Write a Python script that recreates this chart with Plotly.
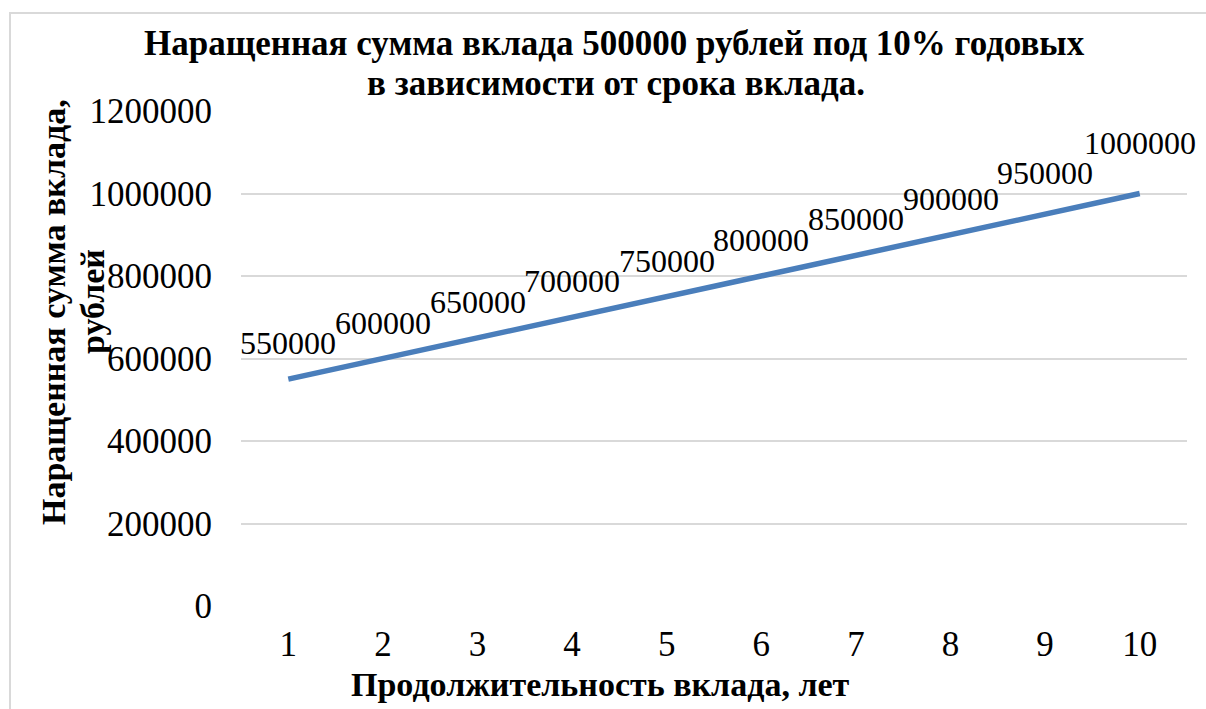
import plotly.graph_objects as go

years = [1, 2, 3, 4, 5, 6, 7, 8, 9, 10]
amounts = [550000, 600000, 650000, 700000, 750000, 800000, 850000, 900000, 950000, 1000000]
y_ticks = [0, 200000, 400000, 600000, 800000, 1000000, 1200000]

title_lines = ["Наращенная сумма вклада 500000 рублей под 10% годовых",
               "в зависимости от срока вклада."]
x_title = "Продолжительность вклада, лет"
y_title_lines = ["Наращенная сумма вклада,", "рублей"]

W, H = 1206, 709
L, R, T, B = 241, 19, 111, 103
pw, ph = W - L - R, H - T - B

def px(x):
    return (x - L) / pw

def py(y):
    return (H - B - y) / ph

FONT = "Liberation Serif, Times New Roman, serif"
line_color = "#4a7ebb"

# extra vertical lift (px) for the last labels, as placed in the original
label_lift = {9: 5, 10: 15}

fig = go.Figure()
fig.add_trace(go.Scatter(
    x=years, y=amounts, mode="lines",
    line=dict(color=line_color, width=5.5),
    hoverinfo="skip", showlegend=False,
))

annotations = []
for xv, yv in zip(years, amounts):
    annotations.append(dict(
        x=xv, y=yv, xref="x", yref="y", text=str(yv), showarrow=False,
        xanchor="center", yanchor="bottom", yshift=16 + label_lift.get(xv, 0),
        font=dict(family=FONT, size=32, color="black"),
    ))

bold = dict(family=FONT, size=35, color="black", weight="bold")
for txt, (cx, cy) in zip(title_lines, [(614, 43), (616, 83)]):
    annotations.append(dict(
        x=px(cx), y=py(cy), xref="paper", yref="paper", text=txt,
        showarrow=False, xanchor="center", yanchor="middle", font=bold,
    ))
annotations.append(dict(
    x=px(600), y=py(684), xref="paper", yref="paper", text=x_title,
    showarrow=False, xanchor="center", yanchor="middle",
    font=dict(family=FONT, size=34, color="black", weight="bold"),
))
for txt, (cx, cy) in zip(y_title_lines, [(53, 312), (92, 302)]):
    annotations.append(dict(
        x=px(cx), y=py(cy), xref="paper", yref="paper", text=txt,
        showarrow=False, xanchor="center", yanchor="middle", textangle=-90,
        font=dict(family=FONT, size=34, color="black", weight="bold"),
    ))

fig.update_layout(
    width=W, height=H,
    margin=dict(l=L, r=R, t=T, b=B, pad=0),
    paper_bgcolor="white", plot_bgcolor="white",
    annotations=annotations,
    shapes=[dict(type="rect", xref="paper", yref="paper",
                 x0=px(10), x1=px(1212), y0=py(13), y1=py(720),
                 line=dict(color="#d9d9d9", width=2), fillcolor="rgba(0,0,0,0)",
                 layer="below")],
    xaxis=dict(
        range=[0.5, 10.5], tickvals=years, ticktext=[str(v) for v in years],
        showgrid=False, zeroline=False, showline=False, ticks="",
        tickfont=dict(family=FONT, size=35, color="black"),
        ticklabelstandoff=14,
    ),
    yaxis=dict(
        range=[0, 1200000], tickvals=y_ticks, ticktext=[str(v) for v in y_ticks],
        showgrid=True, gridcolor="#d9d9d9", gridwidth=1.5, zeroline=False,
        showline=False, ticks="",
        tickfont=dict(family=FONT, size=35, color="black"),
        ticklabelstandoff=28,
    ),
)

fig.write_html("out.html", config={"displayModeBar": False},
               post_script="document.body.style.margin='0';document.body.style.overflow='hidden';")
